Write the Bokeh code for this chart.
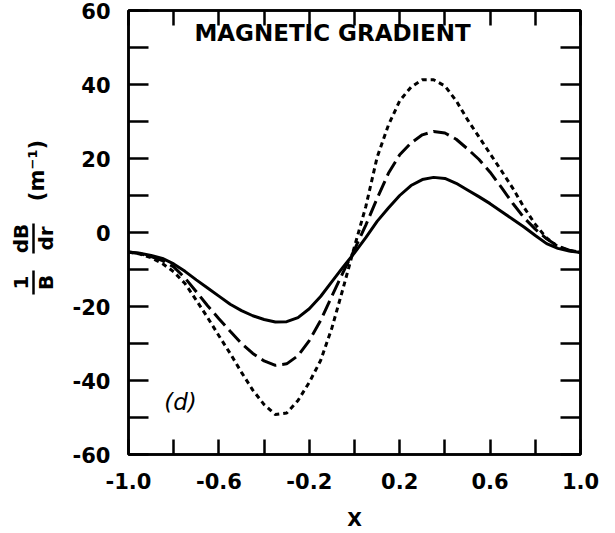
import math

from bokeh.core.properties import value
from bokeh.embed import file_html
from bokeh.layouts import row
from bokeh.models import FixedTicker, LinearAxis, Range1d
from bokeh.plotting import figure
from bokeh.resources import INLINE

# Normalised position across the device
x_pos = [-1.00, -0.95, -0.90, -0.85, -0.80, -0.75, -0.70, -0.65, -0.60, -0.55,
         -0.50, -0.45, -0.40, -0.35, -0.30, -0.25, -0.20, -0.15, -0.10, -0.05,
         0.00, 0.05, 0.10, 0.15, 0.20, 0.25, 0.30, 0.35, 0.40, 0.45,
         0.50, 0.55, 0.60, 0.65, 0.70, 0.75, 0.80, 0.85, 0.90, 0.95, 1.00]

# (1/B) dB/dr in m^-1 for the three cases
grad_solid = [-5.3, -5.6, -6.2, -7.0, -8.5, -10.5, -12.8, -15.0, -17.2, -19.4,
              -21.1, -22.5, -23.5, -24.2, -24.1, -23.0, -20.6, -17.3, -13.3, -9.3,
              -5.5, -1.4, 3.0, 6.6, 10.0, 12.7, 14.3, 14.9, 14.6, 13.3,
              11.5, 9.7, 7.8, 5.7, 3.6, 1.5, -0.8, -3.0, -4.3, -5.0, -5.4]
grad_dashed = [-5.3, -5.7, -6.5, -7.6, -9.3, -12.3, -16.0, -19.8, -23.3, -26.7,
               -30.0, -32.7, -34.7, -35.9, -35.5, -33.3, -29.2, -23.8, -17.2, -10.7,
               -4.6, 2.0, 9.2, 16.0, 21.0, 24.2, 26.4, 27.3, 26.9, 25.2,
               22.6, 19.8, 16.3, 12.2, 7.9, 4.0, 0.9, -1.7, -3.7, -4.8, -5.4]
grad_dotted = [-5.3, -5.8, -6.8, -8.4, -10.6, -13.8, -18.3, -23.0, -27.9, -32.7,
               -37.8, -42.6, -46.5, -49.2, -48.8, -45.4, -40.5, -34.6, -25.8, -15.0,
               -3.8, 7.0, 20.3, 29.0, 35.6, 39.3, 41.3, 41.3, 39.6, 35.6,
               30.5, 25.9, 21.3, 16.7, 12.0, 6.8, 2.2, -1.5, -3.8, -4.9, -5.4]

x_ticks = [-1.0, -0.6, -0.2, 0.2, 0.6, 1.0]
x_minor = [-0.8, -0.4, 0.0, 0.4, 0.8]
y_ticks = [-60, -40, -20, 0, 20, 40, 60]
y_minor = [-50, -30, -10, 10, 30, 50]

FONT = "DejaVu Sans"
LABEL_W = 60          # width of the strip holding the stacked y-axis title
H = 533
FRAME_TOP, FRAME_BOTTOM = 10, 454

# ---------------------------------------------------------------- main plot
p = figure(width=615 - LABEL_W, height=H,
           x_range=Range1d(-1.0, 1.0), y_range=Range1d(-60, 60),
           output_backend="svg", toolbar_location=None,
           x_axis_location=None, y_axis_location=None,
           min_border_left=128 - LABEL_W, min_border_right=35,
           min_border_top=FRAME_TOP, min_border_bottom=H - FRAME_BOTTOM)
p.background_fill_color = "white"
p.border_fill_color = "white"
p.outline_line_color = "black"
p.outline_line_width = 2.5
p.xgrid.visible = False
p.ygrid.visible = False


def style_axis(ax, tick_len):
    ax.axis_line_color = "black"
    ax.axis_line_width = 2.5
    ax.major_tick_line_width = 2.5
    ax.minor_tick_line_width = 2.5
    ax.major_tick_in = tick_len
    ax.major_tick_out = 0
    ax.minor_tick_in = tick_len
    ax.minor_tick_out = 0
    ax.major_label_text_font = FONT
    ax.major_label_text_font_style = "bold"
    ax.major_label_text_font_size = "21px"
    ax.major_label_text_color = "black"
    ax.major_label_standoff = 18


bottom = LinearAxis(ticker=FixedTicker(ticks=x_ticks, minor_ticks=x_minor))
style_axis(bottom, 15)
bottom.major_label_overrides = {t: f"{t:.1f}" for t in x_ticks}
bottom.axis_label = "X"
bottom.axis_label_text_font = FONT
bottom.axis_label_text_font_style = "bold"
bottom.axis_label_text_font_size = "19px"
bottom.axis_label_text_color = "black"
bottom.axis_label_standoff = 16

left = LinearAxis(ticker=FixedTicker(ticks=y_ticks, minor_ticks=y_minor))
style_axis(left, 20)
left.major_label_overrides = {t: str(t) for t in y_ticks}

# top and right edges carry tick marks only
top = LinearAxis(ticker=FixedTicker(ticks=[], minor_ticks=x_ticks + x_minor))
style_axis(top, 15)
top.major_label_standoff = 0
right = LinearAxis(ticker=FixedTicker(ticks=[], minor_ticks=y_ticks + y_minor))
style_axis(right, 20)
right.major_label_standoff = 0

p.add_layout(bottom, "below")
p.add_layout(top, "above")
p.add_layout(left, "left")
p.add_layout(right, "right")

p.line(x_pos, grad_solid, line_color="black", line_width=3)
p.line(x_pos, grad_dashed, line_color="black", line_width=3, line_dash="16 6")
p.line(x_pos, grad_dotted, line_color="black", line_width=3, line_dash="5 4")

p.text(x=[-0.097], y=[53.8], text=["MAGNETIC GRADIENT"],
       text_font=value(FONT), text_font_style="bold", text_font_size="23px",
       text_color="black", text_align="center", text_baseline="middle")
p.text(x=[-0.77], y=[-45.9], text=["(d)"],
       text_font=value(FONT), text_font_style="italic", text_font_size="23px",
       text_color="black", text_align="center", text_baseline="middle")

# ------------------------------------------- stacked y-axis title strip
# the strip's frame is aligned with the main frame; its y coordinate is the
# distance in pixels from the bottom of the page
ylab = figure(width=LABEL_W, height=H,
              x_range=Range1d(0, LABEL_W),
              y_range=Range1d(H - FRAME_BOTTOM, H - FRAME_TOP),
              output_backend="svg", toolbar_location=None,
              x_axis_location=None, y_axis_location=None,
              min_border_left=0, min_border_right=0,
              min_border_top=FRAME_TOP, min_border_bottom=H - FRAME_BOTTOM)
ylab.outline_line_color = None
ylab.background_fill_color = "white"
ylab.border_fill_color = "white"
ylab.xgrid.visible = False
ylab.ygrid.visible = False

up = math.pi / 2
ylab.text(x=[20, 45, 20, 45], y=[H - 282, H - 282, H - 238, H - 238],
          text=["1", "B", "dB", "dr"], angle=up,
          text_font=value(FONT), text_font_style="bold", text_font_size="20px",
          text_color="black", text_align="center", text_baseline="middle")
ylab.text(x=[36], y=[H - 170], text=["(m\u207b\u00b9)"], angle=up,
          text_font=value(FONT), text_font_style="bold", text_font_size="21px",
          text_color="black", text_align="center", text_baseline="middle")
ylab.segment(x0=[33, 33], y0=[H - 270, H - 223], x1=[33, 33], y1=[H - 294, H - 253],
             line_color="black", line_width=2.5)

layout = row(ylab, p, spacing=0)
open("out.html", "w").write(file_html(layout, INLINE))
